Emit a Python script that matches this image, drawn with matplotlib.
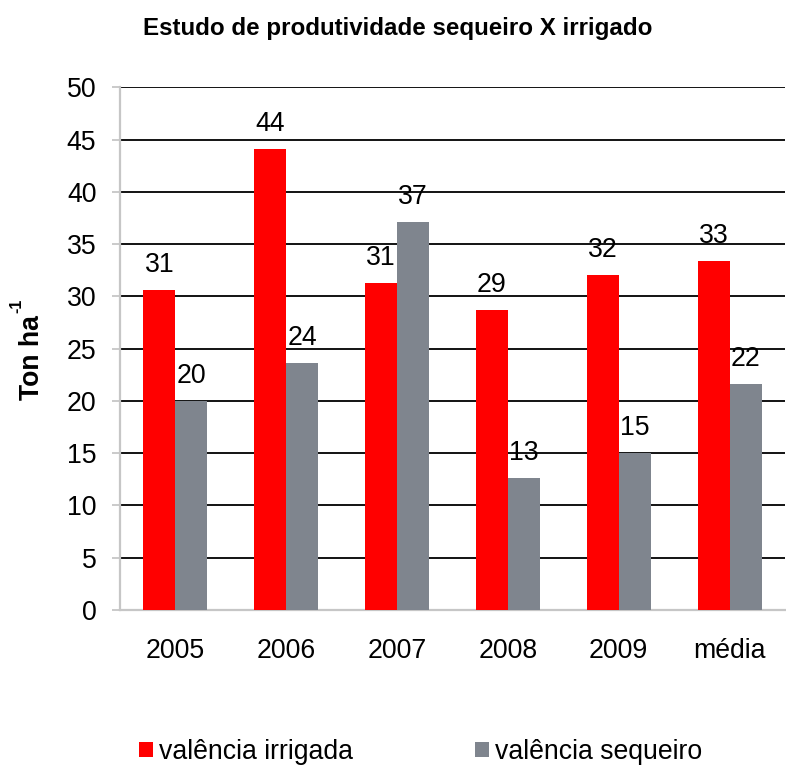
import matplotlib
matplotlib.use("Agg")
import matplotlib.pyplot as plt
import numpy as np
from matplotlib.patches import Patch

plt.rcParams['font.family'] = ['Liberation Sans', 'DejaVu Sans']

categories = ['2005', '2006', '2007', '2008', '2009', 'média']
irrigada = [30.6, 44.1, 31.3, 28.7, 32.0, 33.4]
sequeiro = [20.0, 23.6, 37.1, 12.6, 15.0, 21.6]
series_names = ['valência irrigada', 'valência sequeiro']
yticks = [0, 5, 10, 15, 20, 25, 30, 35, 40, 45, 50]

RED = '#FF0000'
GRAY = '#7F858E'
SPINE = '#C6C6C6'
FS = 19.2

W, H = 786, 766
fig = plt.figure(figsize=(W / 100, H / 100), dpi=100)
ax = fig.add_axes([120 / W, (H - 610) / H, 665 / W, (610 - 87.3) / H])

x = np.arange(len(categories))
bw = 32 / 111
b1 = ax.bar(x - bw / 2, irrigada, bw, color=RED, zorder=3)
b2 = ax.bar(x + bw / 2, sequeiro, bw, color=GRAY, zorder=3)

for cont, vals in ((b1, irrigada), (b2, sequeiro)):
    for rect, v in zip(cont, vals):
        ax.annotate(f'{v:.0f}', (rect.get_x() + rect.get_width() / 2, rect.get_height()),
                    xytext=(0, 13), textcoords='offset points',
                    ha='center', va='baseline', fontsize=FS, color='black', zorder=5)

ax.set_xlim(-0.5, len(categories) - 0.5)
ax.set_ylim(0, 50)
ax.set_yticks(yticks)
ax.set_xticks(x)
ax.set_xticklabels(categories)
ax.yaxis.grid(True, color='black', linewidth=1.3, zorder=1)
ax.set_axisbelow(True)
for s in ('top', 'right'):
    ax.spines[s].set_visible(False)
for s in ('left', 'bottom'):
    ax.spines[s].set_color(SPINE)
    ax.spines[s].set_linewidth(1.6)
ax.tick_params(axis='y', length=6, width=1.3, color=SPINE, labelsize=FS, pad=11)
ax.tick_params(axis='x', length=0, labelsize=FS, pad=20)

# y-axis label with small hyphen-style superscript
fig.text(32 / W, 1 - 358 / H, 'Ton ha', rotation=90, ha='center', va='center',
         fontsize=FS, fontweight='bold')
fig.text(17 / W, 1 - 306 / H, '-1', rotation=90, ha='center', va='center',
         fontsize=11.5, fontweight='bold')

fig.text(398 / W, 1 - 29 / H, 'Estudo de produtividade sequeiro X irrigado',
         ha='center', va='center', fontsize=17.4, fontweight='bold')

handles = [Patch(facecolor=RED), Patch(facecolor=GRAY)]
fig.legend(handles, series_names, loc='center left', bbox_to_anchor=(139 / W, 1 - 752 / H),
           ncol=2, frameon=False, fontsize=FS, handlelength=0.52, handleheight=0.52,
           handletextpad=0.22, columnspacing=4.6, borderaxespad=0, borderpad=0)

fig.savefig('out.png', dpi=100)
